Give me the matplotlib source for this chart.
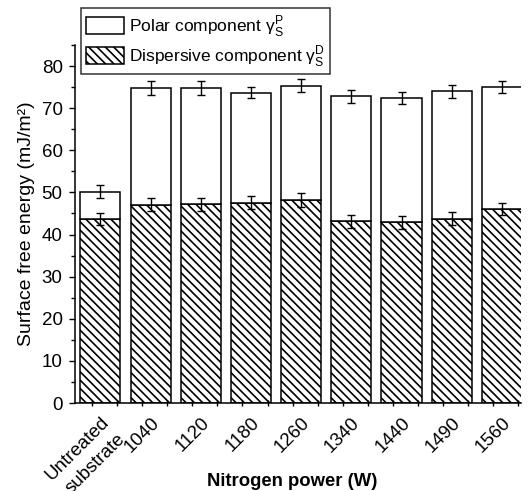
import matplotlib
matplotlib.use("Agg")
import matplotlib.pyplot as plt
import numpy as np
from matplotlib.ticker import MultipleLocator, FixedLocator

plt.rcParams['font.family'] = ['Liberation Sans', 'DejaVu Sans']
plt.rcParams['mathtext.fontset'] = 'custom'
plt.rcParams['mathtext.rm'] = 'Liberation Sans'
plt.rcParams['hatch.linewidth'] = 1.2

# Surface free energy components (mJ/m²) for each nitrogen power
categories = ["Untreated\nsubstrate", "1040", "1120", "1180", "1260",
              "1340", "1440", "1490", "1560"]
dispersive = [43.7, 47.1, 47.2, 47.6, 48.2, 43.2, 42.9, 43.7, 46.0]
dispersive_err = [1.5, 1.6, 1.5, 1.55, 1.55, 1.55, 1.6, 1.55, 1.45]
polar = [6.5, 27.7, 27.6, 26.1, 27.1, 29.6, 29.6, 30.3, 29.0]
total_err = [1.5, 1.6, 1.6, 1.4, 1.55, 1.5, 1.4, 1.5, 1.5]
yticks = [0, 10, 20, 30, 40, 50, 60, 70, 80]

polar_label = 'Polar component γ$_\\mathrm{S}^\\mathrm{P}$'
disp_label = 'Dispersive component γ$_\\mathrm{S}^\\mathrm{D}$'

fig = plt.figure(figsize=(5.28, 4.91), dpi=100)
ax = fig.add_axes([74.5 / 528, 88 / 491, (521 - 74.5) / 528, (403 - 45) / 491])

x = np.arange(len(categories))
disp = np.array(dispersive)
pol = np.array(polar)
total = disp + pol

bar_kw = dict(width=0.8, edgecolor='black', linewidth=1.1, facecolor='white')
b_d = ax.bar(x, disp, hatch='\\\\\\\\', label=disp_label, **bar_kw)
b_p = ax.bar(x, pol, bottom=disp, label=polar_label, **bar_kw)

err_kw = dict(fmt='none', ecolor='black', elinewidth=1.0, capsize=2.8, capthick=1.0, zorder=5)
ax.errorbar(x, disp, yerr=dispersive_err, **err_kw)
ax.errorbar(x, total, yerr=total_err, **err_kw)

ax.set_xlim(-0.516, 8.38)
ax.set_ylim(0, 85)
ax.set_yticks(yticks)
ax.yaxis.set_minor_locator(MultipleLocator(5))
ax.tick_params(axis='y', which='major', direction='out', length=4.5, width=1.0,
               labelsize=13.5, pad=4)
ax.tick_params(axis='y', which='minor', direction='out', length=3, width=1.0)

ax.set_xticks(x)
ax.set_xticklabels(categories, rotation=45, ha='right', va='top',
                   rotation_mode='anchor', fontsize=13.5, linespacing=1.45)
ax.xaxis.set_minor_locator(FixedLocator(np.arange(-0.17, 8.4, 0.5)))
ax.tick_params(axis='x', which='major', length=0, pad=8)
ax.tick_params(axis='x', which='minor', direction='inout', length=4, width=1.0)

for side in ('top', 'right'):
    ax.spines[side].set_visible(False)
for side in ('left', 'bottom'):
    ax.spines[side].set_linewidth(1.1)

ax.set_ylabel('Surface free energy (mJ/m²)', fontsize=14, labelpad=5)
fig.text(292 / 528, 1 - 481 / 491, 'Nitrogen power (W)', fontsize=13.3,
         fontweight='bold', ha='center', va='center')

leg = fig.legend([b_p, b_d], [polar_label, disp_label],
                 loc='upper left', bbox_to_anchor=(80.7 / 528, 1 - 8 / 491),
                 borderaxespad=0, fontsize=12.5, frameon=True, fancybox=False,
                 handlelength=2.2, handleheight=1.15, handletextpad=0.3,
                 labelspacing=0.25, borderpad=0.3)
leg.get_frame().set_edgecolor('black')
leg.get_frame().set_linewidth(1.1)

fig.savefig('out.png', dpi=100)
